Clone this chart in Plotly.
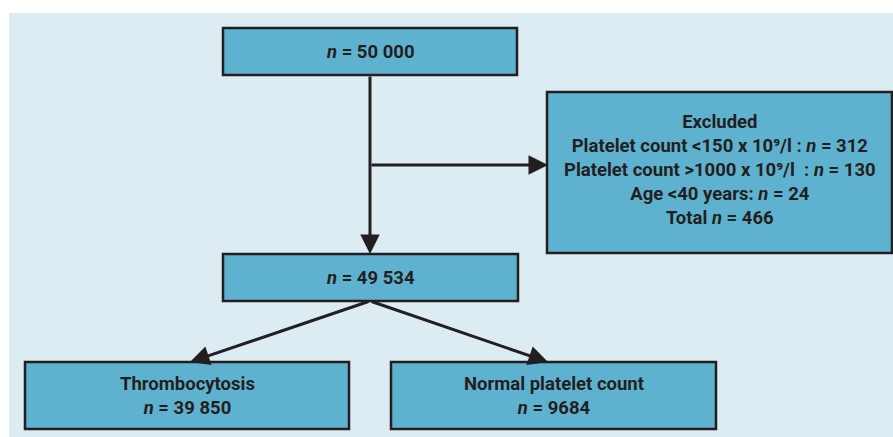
import plotly.graph_objects as go

# ---- data ----
node_titles = ["", "Excluded", "", "Thrombocytosis", "Normal platelet count"]
node_counts = ["50 000", "466", "49 534", "39 850", "9684"]
excluded_reasons = ["Platelet count <150 x 10⁹/l", "Platelet count >1000 x 10⁹/l ", "Age <40 years"]
excluded_counts = ["312", "130", "24"]

# ---- layout (pixel geometry) ----
W, H = 893, 437
boxes = [  # x0, y0, x1, y1
    (223, 28, 517, 75),
    (547, 92, 892, 253),
    (223, 254, 518, 301),
    (25, 362, 349, 429),
    (391, 362, 716, 429),
]
FILL = "#5fb2cf"
EDGE = "#231f20"
BG = "#ddebf3"
TXT = "#231f20"
FONT = "Roboto"
FS = 18.5

fig = go.Figure()
shapes = [dict(type="rect", x0=9, y0=13, x1=W, y1=H, line=dict(width=0), fillcolor=BG, layer="below")]
for (x0, y0, x1, y1) in boxes:
    shapes.append(dict(type="rect", x0=x0, y0=y0, x1=x1, y1=y1,
                       line=dict(color=EDGE, width=2.5), fillcolor=FILL, layer="below"))

def ntext(c):
    return f"<b><i>n</i> = {c}</b>"

texts = []
for i, (t, c) in enumerate(zip(node_titles, node_counts)):
    x0, y0, x1, y1 = boxes[i]
    if i == 1:
        lines = ["<b>Excluded</b>"]
        for r, n in zip(excluded_reasons, excluded_counts):
            sep = " : " if r.startswith("Platelet") else ": "
            lines.append(f"<b>{r}{sep}<i>n</i> = {n}</b>")
        lines.append(f"<b>Total <i>n</i> = {c}</b>")
        txt = "<br>".join(lines)
        yc = 170
    elif t:
        txt = f"<b>{t}</b><br>" + ntext(c)
        yc = (y0 + y1) / 2
    else:
        txt = ntext(c)
        yc = (y0 + y1) / 2
    texts.append(dict(x=(x0 + x1) / 2, y=yc, text=txt, showarrow=False,
                      font=dict(family=FONT, size=FS, color=TXT), align="center",
                      xanchor="center", yanchor="middle"))

# connectors
arrows = [
    ((370, 75), (370, 254)),
    ((370, 165), (548, 165)),
    ((370, 301), (190, 362)),
    ((370, 301), (548, 362)),
]
ann = []
for (sx, sy), (ex, ey) in arrows:
    ann.append(dict(x=ex, y=ey, ax=sx, ay=sy, xref="x", yref="y", axref="x", ayref="y",
                    showarrow=True, arrowhead=2, arrowsize=1.3, arrowwidth=3,
                    arrowcolor=EDGE, text=""))

fig.update_layout(
    width=W, height=H, margin=dict(l=0, r=0, t=0, b=0),
    paper_bgcolor="white", plot_bgcolor="white",
    xaxis=dict(range=[0, W], visible=False, fixedrange=True),
    yaxis=dict(range=[H, 0], visible=False, fixedrange=True),
    shapes=shapes, annotations=ann + texts, showlegend=False,
)
fig.write_html("out.html", config={"displayModeBar": False},
               post_script="document.body.style.margin='0';document.body.style.overflow='hidden';")
